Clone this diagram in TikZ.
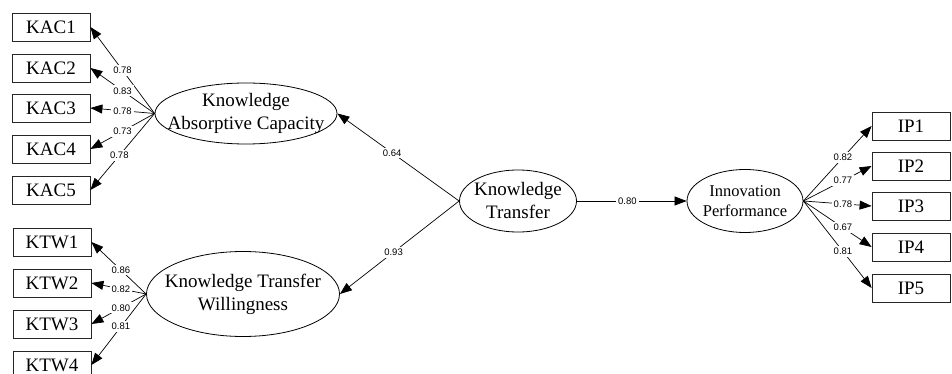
\documentclass[tikz,border=0pt]{standalone}
\usepackage{fontspec}
\setmainfont{Liberation Serif}
\newfontfamily\coeffont{Liberation Sans}
\usepackage{tikz}
\usetikzlibrary{arrows.meta,shapes.geometric}
\tikzset{
  item/.style={draw=black!85,line width=0.8pt,minimum width=78pt,minimum height=28pt,
    inner sep=0pt,font=\fontsize{19}{21}\selectfont},
  latent/.style={draw=black,line width=0.8pt,ellipse,inner sep=0pt},
  lbl/.style={align=center,inner sep=0pt,font=\fontsize{19}{23}\selectfont},
  lbl_s/.style={align=center,inner sep=0pt,font=\fontsize{16.5}{20}\selectfont},
  coef/.style={fill=white,inner sep=2pt,font=\coeffont\fontsize{9.5}{10}\selectfont},
  arr/.style={-{Triangle[length=12pt,width=9pt]},draw=black,line width=0.7pt},
}
\begin{document}
\begin{tikzpicture}[x=1pt,y=-1pt]
    \useasboundingbox (0,0) rectangle (952,374);

    % indicators
    \node[item] (kac1) at (51,27) {KAC1};
    \node[item] (kac2) at (51,68) {KAC2};
    \node[item] (kac3) at (51,108) {KAC3};
    \node[item] (kac4) at (51,149) {KAC4};
    \node[item] (kac5) at (51,190) {KAC5};
    \node[item] (ktw1) at (52,242) {KTW1};
    \node[item] (ktw2) at (52,283) {KTW2};
    \node[item] (ktw3) at (52,324) {KTW3};
    \node[item] (ktw4) at (52,365) {KTW4};
    \node[item] (ip1) at (911,126) {IP1};
    \node[item] (ip2) at (911,166) {IP2};
    \node[item] (ip3) at (911,206) {IP3};
    \node[item] (ip4) at (911,247) {IP4};
    \node[item] (ip5) at (911,288) {IP5};

    % latent variables
    \node[latent,minimum width=182pt,minimum height=61pt,
      label={[lbl]center:Knowledge\\Absorptive Capacity}] (kac) at (246,113.5) {};
    \node[latent,minimum width=193pt,minimum height=85pt,
      label={[lbl]center:Knowledge Transfer\\Willingness}] (ktw) at (243,294) {};
    \node[latent,minimum width=117pt,minimum height=62pt,
      label={[lbl]center:Knowledge\\Transfer}] (kt) at (518,201) {};
    \node[latent,minimum width=116pt,minimum height=63pt,
      label={[lbl_s]center:Innovation\\Performance}] (ip) at (745,201) {};

    % structural paths
    \draw[arr] (kt.west) -- node[coef,pos=0.55] {0.64} (kac.east);
    \draw[arr] (kt.west) -- node[coef,pos=0.55] {0.93} (ktw.east);
    \draw[arr] (kt.east) -- node[coef,pos=0.46] {0.80} (ip.west);

    % loadings
    \draw[arr] (kac.west) -- node[coef,pos=0.5] {0.78} (kac1.east);
    \draw[arr] (kac.west) -- node[coef,pos=0.5] {0.83} (kac2.east);
    \draw[arr] (kac.west) -- node[coef,pos=0.5] {0.78} (kac3.east);
    \draw[arr] (kac.west) -- node[coef,pos=0.5] {0.73} (kac4.east);
    \draw[arr] (kac.west) -- node[coef,pos=0.55] {0.78} (kac5.east);
    \draw[arr] (ktw.west) -- node[coef,pos=0.46] {0.86} (ktw1.east);
    \draw[arr] (ktw.west) -- node[coef,pos=0.46] {0.82} (ktw2.east);
    \draw[arr] (ktw.west) -- node[coef,pos=0.46] {0.80} (ktw3.east);
    \draw[arr] (ktw.west) -- node[coef,pos=0.46] {0.81} (ktw4.east);
    \draw[arr] (ip.east) -- node[coef,pos=0.58] {0.82} (ip1.west);
    \draw[arr] (ip.east) -- node[coef,pos=0.58] {0.77} (ip2.west);
    \draw[arr] (ip.east) -- node[coef,pos=0.58] {0.78} (ip3.west);
    \draw[arr] (ip.east) -- node[coef,pos=0.58] {0.67} (ip4.west);
    \draw[arr] (ip.east) -- node[coef,pos=0.58] {0.81} (ip5.west);
  \end{tikzpicture}
\end{document}
